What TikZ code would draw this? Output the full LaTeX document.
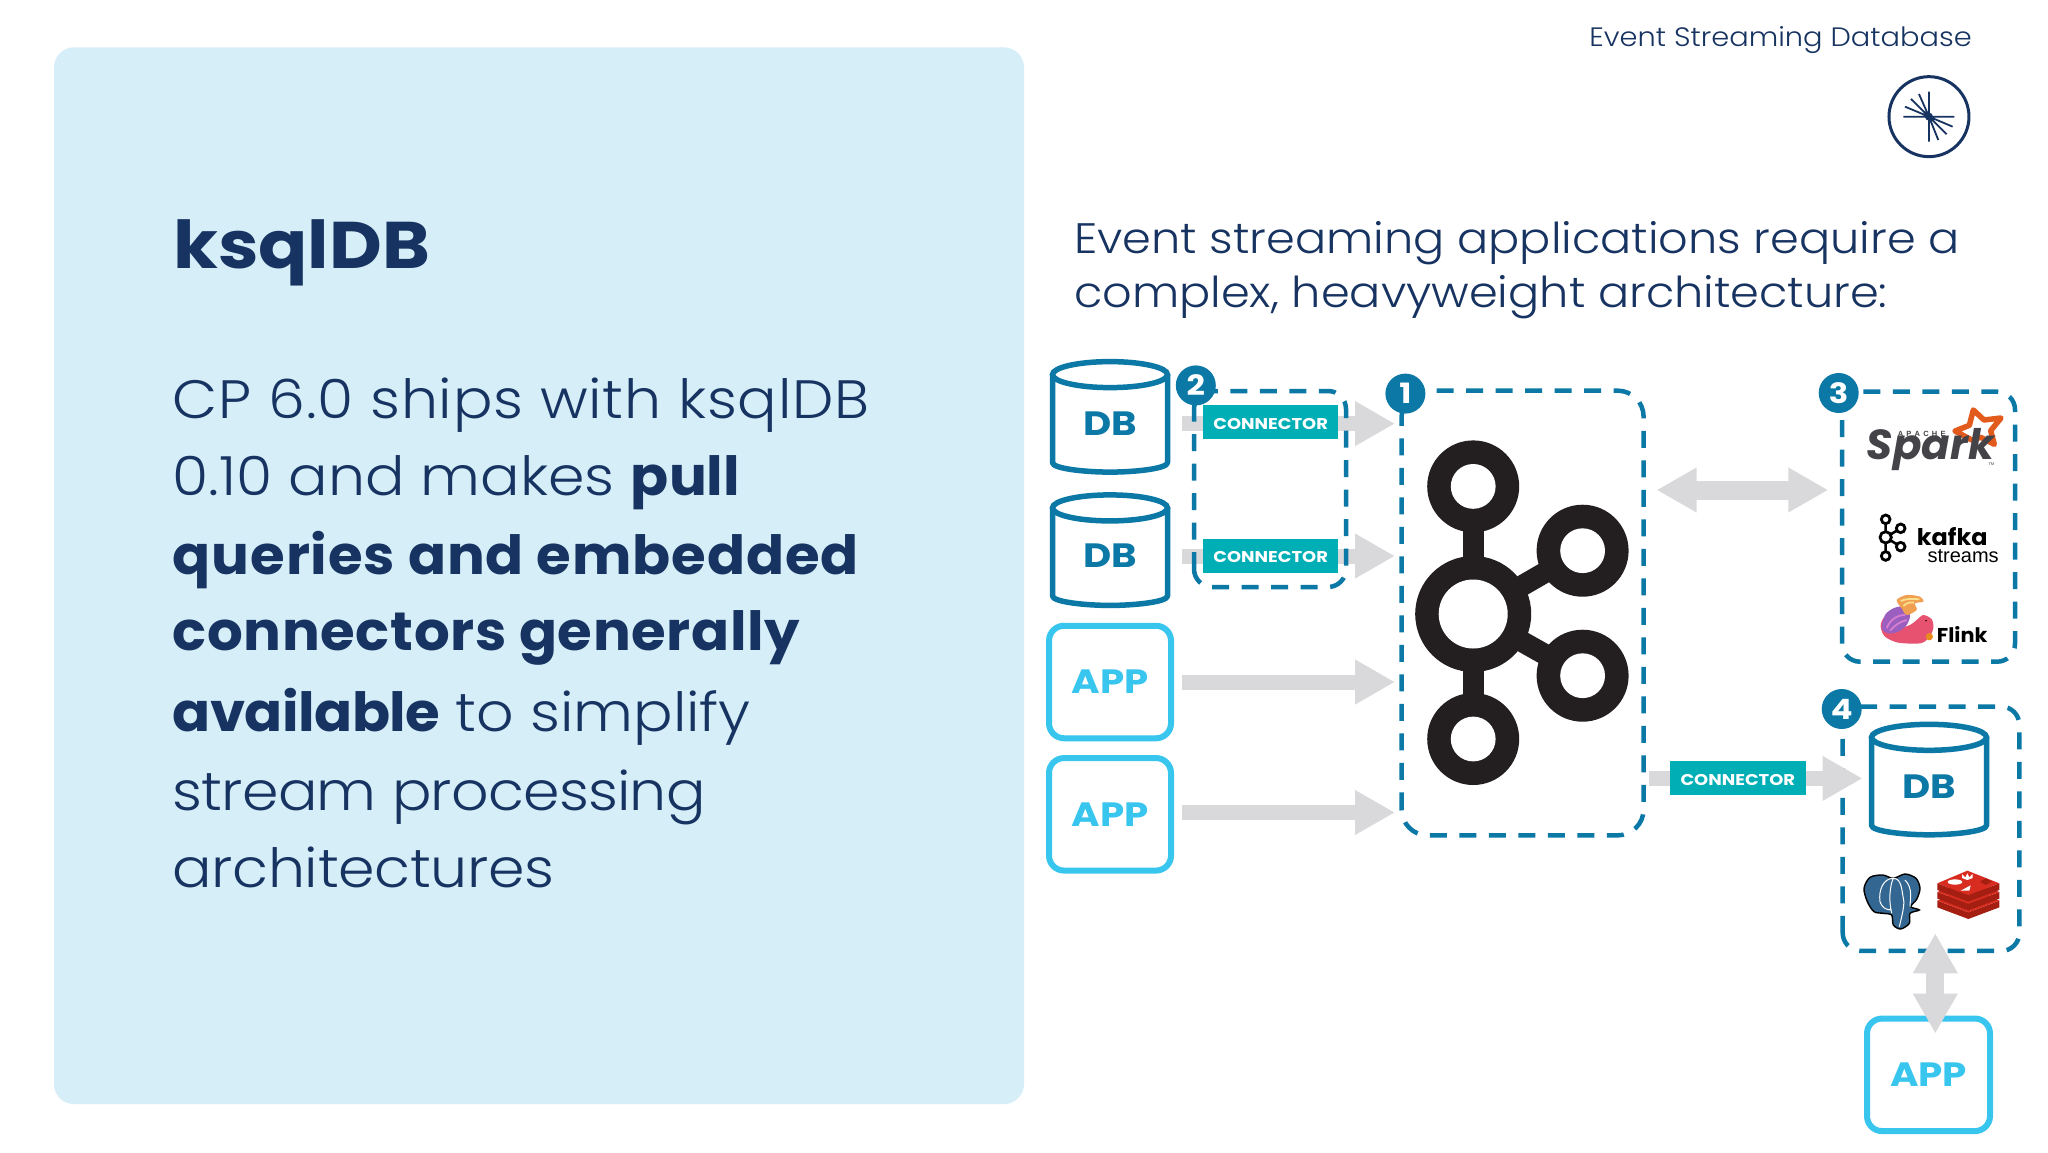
\documentclass[tikz,border=0pt]{standalone}
\usepackage{fontspec}
\usetikzlibrary{arrows.meta,shapes.geometric}
\setmainfont{Poppins}[UprightFont=* Light,BoldFont=* Bold,ItalicFont=* Italic,BoldItalicFont=* Bold Italic,UprightFeatures={FakeStretch=1.085},BoldFeatures={FakeStretch=1.04}]
\newfontfamily\labelfont{Poppins Bold}[FakeStretch=1.15]
\newfontfamily\titlefont{Poppins Bold}[FakeStretch=1.10]
\newfontfamily\arialish{Liberation Sans}
\newcommand{\fsz}[2]{\fontsize{#1}{#2}\selectfont}
\newcommand{\trk}[2]{{\addfontfeature{LetterSpace=#1}#2}}
\definecolor{navy}{HTML}{173361}
\definecolor{panelblue}{HTML}{D6EEF8}
\definecolor{dbblue}{HTML}{0B78A6}
\definecolor{appblue}{HTML}{38C6EE}
\definecolor{tealbox}{HTML}{00AEB5}
\definecolor{arrowgrey}{HTML}{D9D9DB}
\definecolor{kafkablack}{HTML}{231F20}
\definecolor{sparkorange}{HTML}{E25A1C}
\definecolor{sparkgrey}{HTML}{444448}
\definecolor{flinkpink}{HTML}{E6526F}
\definecolor{flinkpurple}{HTML}{9B5FC0}
\definecolor{flinkorange}{HTML}{F0A050}
\definecolor{flinkyellow}{HTML}{F8E08E}
\definecolor{flinklilac}{HTML}{D77ED0}
\definecolor{flinkacorn}{HTML}{E98A1F}
\definecolor{pgblue}{HTML}{336791}
\definecolor{redistop}{HTML}{D82C20}
\definecolor{redisdark}{HTML}{A41E11}
\tikzset{
  dbcyl/.pic={
    \draw[dbblue,line width=5.5pt,line join=round]
      (-57.5,0) -- (-57.5,88) .. controls (-57.5,94) and (-25,97.5) .. (0,97.5)
      .. controls (25,97.5) and (57.5,94) .. (57.5,88) -- (57.5,0);
    \draw[dbblue,line width=5.5pt] (0,0) ellipse [x radius=57.5,y radius=13];
  },
  dblabel/.style={text=dbblue,font=\labelfont\fsz{33.7}{33.7},minimum width=120pt,minimum height=90pt,inner sep=0pt,outer sep=0pt},
  appbox/.style={draw=appblue,line width=6pt,rounded corners=15pt,text=appblue,font=\labelfont\fsz{33.7}{33.7},minimum width=122pt,minimum height=112.5pt,inner sep=0pt,outer sep=0pt},
  connbox/.style={fill=tealbox,text=white,font=\labelfont\fsz{15.6}{15.6},text height=14pt,text depth=0pt,minimum width=135.5pt,minimum height=34pt,inner sep=0pt,outer sep=0pt},
  groupbox/.style={inner sep=0pt,outer sep=0pt},
  dashbox/.style={draw=dbblue,line width=4.5pt,rounded corners=#1,dash pattern=on 17pt off 12.5pt},
  badgeno/.style={circle,fill=dbblue,text=white,font=\labelfont\fsz{28}{28},minimum size=40pt,inner sep=0pt,outer sep=0pt},
  fatarrow/.style={draw=arrowgrey,line width=15pt,-{Triangle[length=40pt,width=42pt,color=arrowgrey]}},
  fatboth/.style={draw=arrowgrey,line width=#1,{Triangle[length=40pt,width=42pt,color=arrowgrey]}-{Triangle[length=40pt,width=42pt,color=arrowgrey]}},
  kring/.style={fill=kafkablack},
  khole/.style={fill=white},
}
\begin{document}
\begin{tikzpicture}[x=1pt,y=-1pt]
\useasboundingbox (0,0) rectangle (2048,1152);
\fill[white] (0,0) rectangle (2048,1152);
% left panel
\node[fill=panelblue,rounded corners=20pt,minimum width=970pt,minimum height=1056.7pt,inner sep=0pt,outer sep=0pt] (panel) at (539,575.7) {};
\node[anchor=base west,inner sep=0pt,text=navy,font=\titlefont\fsz{66}{66}] (title) at (173,268.5) {ksqlDB};
\node[anchor=north west,inner sep=0pt,text=navy,align=left,font=\fsz{54}{78}] (body) at (172.5,378) {\trk{1.4}{CP 6.0 ships with ksqlDB}\\[-1.5pt]
0.10 and makes \textbf{pull}\\[1.2pt]
\textbf{\trk{1.7}{queries and embedded}}\\[-2.4pt]
\textbf{\trk{1.2}{connectors generally}}\\[3.1pt]
\textbf{\trk{-1}{available}} to simplify\\[1.3pt]
\trk{-1.4}{stream processing}\\[-1.5pt]
\trk{-0.7}{architectures}};
% header
\node[anchor=base east,inner sep=0pt,text=navy,font=\fsz{26.6}{26.6}] (header) at (1972,46) {Event Streaming Database};
\begin{scope}[shift={(1550,0)},x=0.3333pt,y=-0.3333pt]
\draw[navy,line width=3pt] (1137,350) circle [radius=120];
\draw[navy,line width=1.8pt] (1060,350) -- (1213,350) (1137,275) -- (1137,425)
  (1137,350) -- (1065,320) (1137,350) -- (1083,297) (1137,350) -- (1107,282)
  (1137,350) -- (1208,380) (1137,350) -- (1190,403) (1137,350) -- (1165,420);
\fill[navy] (1137,350) circle [radius=12];
\end{scope}
\node[anchor=north west,inner sep=0pt,text=navy,align=left,font=\fsz{42.6}{54}] (heading) at (1074,221) {Event streaming applications require a\\complex, heavyweight architecture:};
% sources
\pic at (1110,374.6) {dbcyl};
\pic at (1110,507.9) {dbcyl};
\pic at (1929,737.3) {dbcyl};
\node[dblabel] (db1) at (1110,423.6) {DB};
\node[dblabel] (db2) at (1110,556) {DB};
\node[dblabel] (db3) at (1929,786.7) {DB};
\node[appbox] (app1) at (1110,682) {APP};
\node[appbox] (app2) at (1110,814.3) {APP};
\node[appbox,minimum width=123pt] (app3) at (1928.5,1074.8) {APP};
% group boxes
\node[groupbox,minimum width=242pt,minimum height=444.7pt] (box1) at (1522.6,613) {};
\node[groupbox,minimum width=152pt,minimum height=196pt] (box2) at (1270,489) {};
\node[groupbox,minimum width=173pt,minimum height=270pt] (box3) at (1928.5,526.7) {};
\node[groupbox,minimum width=176.6pt,minimum height=244.3pt] (box4) at (1931,828.8) {};
% connectors under the dashes
\draw[fatarrow] ([xshift=11.5pt]db1.east) -- ([xshift=-6.6pt]box1.west |- db1.east);
\draw[fatarrow] ([xshift=11.5pt]db2.east) -- ([xshift=-6.6pt]box1.west |- db2.east);
\draw[fatarrow] ([xshift=10.5pt]app1.east) -- ([xshift=-6.6pt]box1.west |- app1.east);
\draw[fatarrow] ([xshift=10.5pt,yshift=1.8pt]app2.east) -- ([xshift=-6.6pt,yshift=1.8pt]box1.west |- app2.east);
\draw[dashbox=26pt] (box1.south west) rectangle (box1.north east);
\draw[dashbox=18pt] (box2.south west) rectangle (box2.north east);
\draw[dashbox=18pt] (box3.south west) rectangle (box3.north east);
\draw[dashbox=18pt] (box4.south west) rectangle (box4.north east);
\node[connbox] (conn1) at (1270.7,422.3) {CONNECTOR};
\node[connbox] (conn2) at (1270.7,555.5) {CONNECTOR};
\coordinate (conn3mid) at (1737.8,778.4);
\draw[fatarrow] ([xshift=5pt]box1.east |- conn3mid) -- ([xshift=-6.5pt]db3.west |- conn3mid);
\node[connbox] (conn3) at (conn3mid) {CONNECTOR};
\coordinate (bothmid) at (1742,490);
\draw[fatboth=19pt] ([xshift=13pt]box1.east |- bothmid) -- ([xshift=-13.7pt]box3.west |- bothmid);
\draw[fatboth=18pt] ([xshift=4.3pt,yshift=17.7pt]box4.south) -- ([xshift=6.8pt,yshift=-15pt]app3.north);
\node[badgeno] (badge2) at (1195.8,385.4) {2};
\node[badgeno] (badge1) at (1405.4,393.6) {1};
\node[badgeno] (badge3) at (1838.7,393) {3};
\node[badgeno] (badge4) at (1841.7,709) {4};
% Kafka logo
\fill[kafkablack] (1462.5,486.4) rectangle (1484,739);
\draw[kafkablack,line width=21pt] (1473.2,614) -- (1582.6,550.7) (1473.2,614) -- (1582.6,675.7);
\foreach \kx/\ky/\ko/\ki in {1473.2/614/58/34.5,1473.2/486.4/46/22.4,1473.2/739/46/22.4,1582.6/550.7/46/22.4,1582.6/675.7/46/22.4}{
  \fill[kring] (\kx,\ky) circle [radius=\ko];
}
\foreach \kx/\ky/\ko/\ki in {1473.2/614/58/34.5,1473.2/486.4/46/22.4,1473.2/739/46/22.4,1582.6/550.7/46/22.4,1582.6/675.7/46/22.4}{
  \fill[khole] (\kx,\ky) circle [radius=\ki];
}
% Spark logo
\begin{scope}[shift={(1860,400)},x=0.3333pt,y=-0.3333pt]
\draw[draw=sparkorange,line width=5.5pt,line join=round,fill=white] (285,93) -- (328,76) -- (340,30) -- (372,60) -- (423,54) -- (392,92) -- (403,133) -- (362,112) -- (335,120) -- cycle;
\node[anchor=base west,inner sep=0pt,text=sparkgrey,font=\fsz{42}{42}\bfseries\itshape] (spark) at (20,178) {Spark};
\node[anchor=base west,inner sep=0pt,text=sparkgrey,font=\arialish\fsz{7.5}{7.5}\bfseries] (apache) at (113,110) {A\kern3.2pt P\kern3.2pt A\kern3.2pt C\kern3.2pt H\kern3.2pt E};
\node[anchor=base west,inner sep=0pt,text=sparkgrey,font=\arialish\fsz{4}{4}] (tm) at (385,197) {TM};
\end{scope}
% Kafka streams logo
\begin{scope}[shift={(1870,500)},x=0.3333pt,y=-0.3333pt]
\draw[black,line width=2.6pt] (47,58) -- (47,168) (47,112) -- (92,85) (47,112) -- (92,140);
\foreach \sx/\sy/\sr in {47/58/13,47/168/13,92/85/13,92/140/13,47/112/17}{
  \draw[black,line width=2.8pt,fill=white] (\sx,\sy) circle [radius=\sr];
}
\node[anchor=base west,inner sep=0pt,text=black,font=\fsz{23}{23}\bfseries] (kafka) at (140,136) {kafka};
\node[anchor=base west,inner sep=0pt,text=black,font=\arialish\fsz{20}{20}] (streams) at (172,187) {streams};
% Flink logo
\fill[flinkpink] plot[smooth cycle] coordinates {(32,380) (45,410) (85,428) (150,430) (175,415) (190,385) (185,358) (160,345) (140,360) (120,375) (90,380) (60,345) (40,355)};
\fill[flinkpurple] plot[smooth cycle] coordinates {(35,385) (45,345) (70,325) (100,320) (120,345) (110,375) (85,395) (55,400)};
\fill[flinkorange] plot[smooth cycle] coordinates {(80,300) (110,285) (150,290) (160,305) (135,310) (140,330) (110,345) (95,325)};
\draw[flinkyellow,line width=1.8pt] (92,303) .. controls (110,295) and (130,296) .. (148,298) (100,318) .. controls (110,308) and (120,306) .. (132,308);
\draw[flinklilac,line width=1.8pt] (50,385) .. controls (60,360) and (80,345) .. (105,345) (60,392) .. controls (75,375) and (90,365) .. (110,360);
\fill[flinkacorn] (178,410) circle [radius=11];
\fill[black] (168,362) circle [radius=2.5];
\node[anchor=base west,inner sep=0pt,text=black,font=\fsz{20}{20}] (flink) at (200,428) {\textbf{Flink}};
\end{scope}
% PostgreSQL and Redis logos
\begin{scope}[shift={(1860,860)},x=0.3333pt,y=-0.3333pt]
\filldraw[draw=black,fill=pgblue,line width=1.4pt] plot[smooth cycle] coordinates {(12,85) (30,52) (68,45) (100,55) (135,42) (168,55) (180,85) (170,118) (152,140) (178,150) (150,160) (148,190) (122,207) (100,195) (95,165) (70,160) (42,155) (22,125)};
\draw[white,line width=1pt] (60,125) .. controls (55,90) and (70,55) .. (100,55) .. controls (125,55) and (125,90) .. (130,115) .. controls (135,135) and (125,170) .. (118,200)
  (100,55) .. controls (90,75) and (85,120) .. (95,160) (60,125) .. controls (65,140) and (75,150) .. (95,150) (135,60) .. controls (160,85) and (150,120) .. (150,140);
\foreach \ro in {52,26,0}{
  \fill[redisdark] (232,{70+\ro}) -- (325,{105+\ro}) -- (418,{70+\ro}) -- (418,{90+\ro}) -- (325,{125+\ro}) -- (232,{90+\ro}) -- cycle;
  \fill[redistop] (232,{70+\ro}) -- (322,{32+\ro}) -- (418,{70+\ro}) -- (325,{105+\ro}) -- cycle;
}
\fill[white] (285,66) ellipse [x radius=22,y radius=8];
\fill[white] (322,40) -- (328,52) -- (338,42) -- (338,54) -- (322,60) -- (306,54) -- (306,42) -- (316,52) -- cycle;
\fill[white] (302,92) -- (332,76) -- (328,92) -- cycle;
\fill[redisdark] (360,65) -- (378,55) -- (395,65) -- (378,75) -- cycle;
\end{scope}
\end{tikzpicture}
\end{document}
